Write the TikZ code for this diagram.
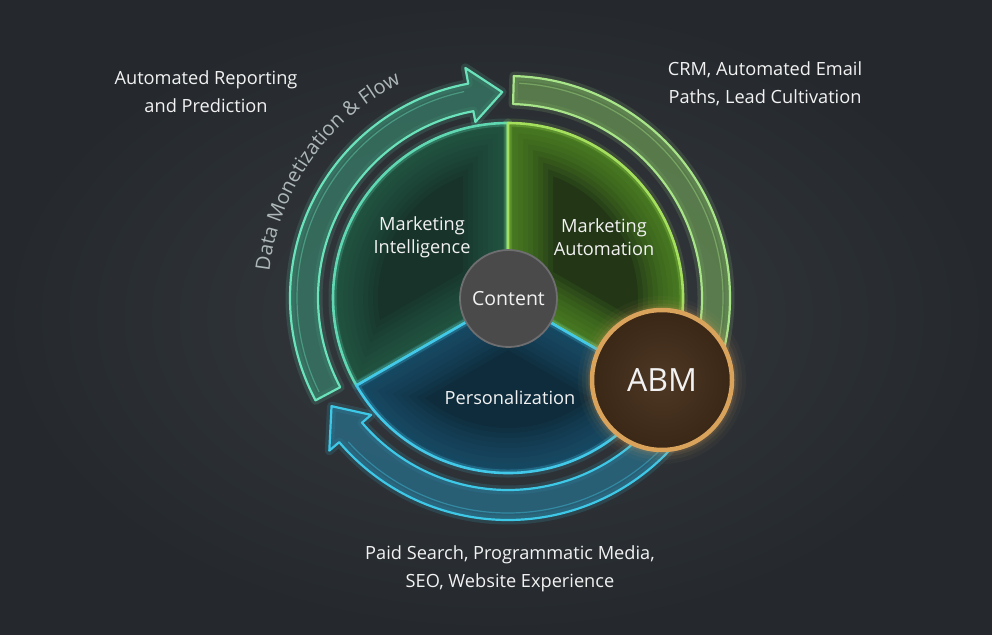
\documentclass[tikz,border=0pt]{standalone}
\usepackage{fontspec}
\setmainfont{Open Sans}
\usetikzlibrary{decorations.text}
\definecolor{bgin}{HTML}{363B41}
\definecolor{bgout}{HTML}{25292D}
\definecolor{tealB}{HTML}{6AE2BA}
\definecolor{tealF}{HTML}{3A8C72}
\definecolor{greenB}{HTML}{A8E488}
\definecolor{greenF}{HTML}{74A85A}
\definecolor{blueB}{HTML}{3EC8E8}
\definecolor{blueF}{HTML}{287C9C}
\definecolor{miDark}{HTML}{17332A}
\definecolor{miEdge}{HTML}{2F7058}
\definecolor{miB}{HTML}{5FD8B2}
\definecolor{maDark}{HTML}{233717}
\definecolor{maEdge}{HTML}{5C9A28}
\definecolor{maB}{HTML}{A4E05C}
\definecolor{peDark}{HTML}{0F2C3C}
\definecolor{peEdge}{HTML}{1F6080}
\definecolor{peB}{HTML}{42C8E8}
\definecolor{abmB}{HTML}{DAA35C}
\definecolor{abmIn}{HTML}{4E3825}
\definecolor{abmOut}{HTML}{3A2716}
\definecolor{contF}{HTML}{4A4A4B}
\definecolor{contB}{HTML}{6E6E70}
\definecolor{txt}{HTML}{F2F2F2}
\definecolor{curv}{HTML}{AEB8B8}
\tikzset{
  lbl/.style={text=txt, font=\fontsize{18.2}{28}\selectfont, align=center, inner sep=0pt},
  inlbl/.style={text=txt, font=\fontsize{18.2}{23}\selectfont, align=center, inner sep=0pt},
  band/.style={fill=#1F, fill opacity=0.62, draw=#1B, line width=2.2pt, draw opacity=1, line join=round},
  glow/.style={draw=#1, line width=9pt, opacity=0.14, line join=round},
  inglow/.style={draw=#1, line join=round},
}
\begin{document}
\begin{tikzpicture}[x=1pt,y=1pt]
\useasboundingbox (0,0) rectangle (992,634);
\shade[inner color=bgin, outer color=bgout] (0,0) rectangle (992,634);

\begin{scope}[shift={(508,336)}]
  % ---------- outer ring ----------
  % teal arrow
  \draw[glow=tealB] (208:218) arc[start angle=208, end angle=100.5, radius=218] -- (100.5:234) -- (91.6:206) -- (100.5:179) -- (100.5:190) arc[start angle=100.5, end angle=208, radius=190] -- cycle;
  \path[band=teal] (208:218) arc[start angle=208, end angle=100.5, radius=218] -- (100.5:234) -- (91.6:206) -- (100.5:179) -- (100.5:190) arc[start angle=100.5, end angle=208, radius=190] -- cycle;
  \draw[tealB, line width=1.2pt, opacity=0.4] (206.5:211) arc[start angle=206.5, end angle=102, radius=211];
  % green arc
  \draw[glow=greenB] (88.5:222) arc[start angle=88.5, end angle=-24, radius=222] -- (-24:194) arc[start angle=-24, end angle=88.5, radius=194] -- cycle;
  \path[band=green] (88.5:222) arc[start angle=88.5, end angle=-24, radius=222] -- (-24:194) arc[start angle=-24, end angle=88.5, radius=194] -- cycle;
  \draw[greenB, line width=1.2pt, opacity=0.4] (87:215) arc[start angle=87, end angle=-22, radius=215];
  % blue arrow
  \draw[glow=blueB] (-30:222) arc[start angle=-30, end angle=-139.5, radius=222] -- (-139.5:235) -- (-148.5:207) -- (-139.5:180) -- (-139.5:192) arc[start angle=-139.5, end angle=-30, radius=192] -- cycle;
  \path[band=blue] (-30:222) arc[start angle=-30, end angle=-139.5, radius=222] -- (-139.5:235) -- (-148.5:207) -- (-139.5:180) -- (-139.5:192) arc[start angle=-139.5, end angle=-30, radius=192] -- cycle;
  \draw[blueB, line width=1.2pt, opacity=0.4] (-32:215) arc[start angle=-32, end angle=-138, radius=215];

  % curved label
  \path[decorate, decoration={text along path, text align=center,
     text={|\fontsize{20}{20}\selectfont\color{curv}|Data Monetization {\&} Flow}}]
     (180:240) arc[start angle=180, end angle=110, radius=240];

  % ---------- pie ----------
  % Marketing Intelligence
  \draw[glow=miB] (0,0) -- (90:175) arc[start angle=90, end angle=210, radius=175] -- cycle;
  \begin{scope}
    \clip (0,0) -- (90:175) arc[start angle=90, end angle=210, radius=175] -- cycle;
    \fill[miDark] (0,0) circle[radius=180];
    \foreach \w in {90,80,...,10}{
      \draw[inglow=miEdge, line width=\w pt, opacity=0.09] (0,0) -- (90:175) arc[start angle=90, end angle=210, radius=175] -- cycle;
    }
    \draw[inglow=miB, line width=7pt, opacity=0.25] (0,0) -- (90:175) arc[start angle=90, end angle=210, radius=175] -- cycle;
  \end{scope}
  \draw[miB, line width=2.6pt, line join=round] (0,0) -- (90:175) arc[start angle=90, end angle=210, radius=175] -- cycle;
  % Marketing Automation
  \draw[glow=maB] (0,0) -- (-30:175) arc[start angle=-30, end angle=90, radius=175] -- cycle;
  \begin{scope}
    \clip (0,0) -- (-30:175) arc[start angle=-30, end angle=90, radius=175] -- cycle;
    \fill[maDark] (0,0) circle[radius=180];
    \foreach \w in {90,80,...,10}{
      \draw[inglow=maEdge, line width=\w pt, opacity=0.12] (0,0) -- (-30:175) arc[start angle=-30, end angle=90, radius=175] -- cycle;
    }
    \draw[inglow=maB, line width=7pt, opacity=0.25] (0,0) -- (-30:175) arc[start angle=-30, end angle=90, radius=175] -- cycle;
  \end{scope}
  \draw[maB, line width=2.6pt, line join=round] (0,0) -- (-30:175) arc[start angle=-30, end angle=90, radius=175] -- cycle;
  % Personalization
  \draw[glow=peB] (0,0) -- (210:175) arc[start angle=210, end angle=330, radius=175] -- cycle;
  \begin{scope}
    \clip (0,0) -- (210:175) arc[start angle=210, end angle=330, radius=175] -- cycle;
    \fill[peDark] (0,0) circle[radius=180];
    \foreach \w in {90,80,...,10}{
      \draw[inglow=peEdge, line width=\w pt, opacity=0.1] (0,0) -- (210:175) arc[start angle=210, end angle=330, radius=175] -- cycle;
    }
    \draw[inglow=peB, line width=7pt, opacity=0.25] (0,0) -- (210:175) arc[start angle=210, end angle=330, radius=175] -- cycle;
  \end{scope}
  \draw[peB, line width=2.6pt, line join=round] (0,0) -- (210:175) arc[start angle=210, end angle=330, radius=175] -- cycle;

  % ABM glow
  \foreach \w/\o in {26/0.04,18/0.06,11/0.09,6/0.12}{
    \draw[abmB, line width=\w pt, opacity=\o] (154,-82) circle[radius=71];
  }
\end{scope}

% Content
\node[circle, minimum size=97pt, inner sep=0pt, fill=contF, draw=contB, line width=1.8pt] (content) at (508.5,335.5) {};
\node[inlbl, font=\fontsize{19.5}{22}\selectfont] (contentlbl) at (content) {Content};

% ABM
\node[circle, minimum size=140pt, inner sep=0pt, inner color=abmIn, outer color=abmOut, draw=abmB, line width=4.5pt] (abm) at (662,254) {};
\node[text=txt, font=\fontsize{32}{36}\selectfont, inner sep=0pt] (abmlbl) at (abm) {ABM};

% sector labels
\node[inlbl] (mi) at (422,397) {Marketing\\Intelligence};
\node[inlbl] (ma) at (604,397) {Marketing\\Automation};
\node[inlbl] (pe) at (510,236) {Personalization};

% outer labels
\node[lbl] (rep) at (206,542) {Automated Reporting\\and Prediction};
\node[lbl] (crm) at (765,550) {CRM, Automated Email\\Paths, Lead Cultivation};
\node[lbl] (paid) at (510,65) {Paid Search, Programmatic Media,\\SEO, Website Experience};
\end{tikzpicture}
\end{document}
